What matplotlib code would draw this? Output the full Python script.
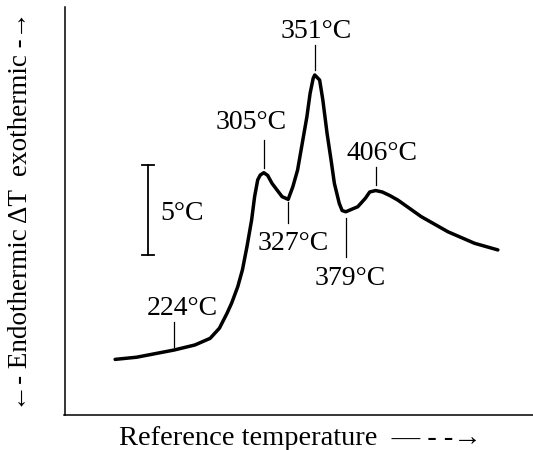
import matplotlib.pyplot as plt

plt.rcParams['font.family'] = ['Liberation Serif', 'DejaVu Serif']

# DTA trace: reference temperature (deg C) vs differential temperature (deg C)
temp = [170.8, 190.2, 224.0, 242.8, 256.6, 264.9, 271.8, 276.0, 281.5, 285.7,
        289.8, 294.0, 296.7, 299.5, 301.8, 305.0, 308.5, 312.4, 321.5, 327.0,
        331.2, 335.5, 339.7, 343.9, 346.8, 349.6, 351.0, 355.4, 358.3, 362.1,
        365.7, 368.7, 373.1, 375.7, 379.0, 389.8, 396.7, 400.6, 406.0, 411.9,
        418.5, 426.0, 447.1, 471.2, 495.2, 516.3]
delta_t = [3.09, 3.21, 3.61, 3.89, 4.26, 4.82, 5.65, 6.22, 7.13, 8.06,
           9.35, 10.83, 12.13, 13.06, 13.33, 13.46, 13.31, 12.87, 12.13, 11.98,
           12.68, 13.61, 15.09, 16.57, 17.87, 18.71, 18.89, 18.61, 17.50, 15.65,
           14.17, 12.87, 11.76, 11.36, 11.29, 11.57, 12.04, 12.39, 12.47, 12.39,
           12.20, 11.94, 11.02, 10.18, 9.54, 9.17]

# marked temperatures and their tick extents
marks = [224, 305, 327, 351, 379, 406]
tick_lo = [3.79, 13.72, 10.67, 19.17, 8.79, 12.78]
tick_hi = [5.18, 15.28, 11.85, 20.56, 10.94, 13.79]
# label placement: shift along x and baseline height
label_dx = [7.1, -11.3, 4.1, 1.2, 4.1, 5.9]
label_y = [5.56, 15.91, 9.17, 20.93, 7.22, 14.17]

# 5 deg C scale bar
bar_x = 200.7
bar_bottom = 8.89
bar_len = 5

fig = plt.figure(figsize=(5.33, 4.5), dpi=100)
ax = fig.add_axes([64.5 / 533, 35 / 450, 1 - 64.5 / 533, (415 - 7.3) / 450])

ax.plot(temp, delta_t, color='black', lw=2.5, solid_joinstyle='round',
        solid_capstyle='round')

for t, lo, hi, dx, ly in zip(marks, tick_lo, tick_hi, label_dx, label_y):
    ax.plot([t, t], [lo, hi], color='black', lw=0.9)
    ax.text(t + dx, ly, f'{t}°C', ha='center', va='baseline', fontsize=20)

ax.plot([bar_x, bar_x], [bar_bottom, bar_bottom + bar_len], color='black', lw=1.3)
for yy in (bar_bottom, bar_bottom + bar_len):
    ax.plot([bar_x - 5.3, bar_x + 5.3], [yy, yy], color='black', lw=1.3)
ax.text(211.4, 10.83, '5°C', ha='left', va='baseline', fontsize=20)

ax.set_xlim(125.1, 548)
ax.set_ylim(0, 22.65)
ax.set_xticks([])
ax.set_yticks([])
ax.spines['top'].set_visible(False)
ax.spines['right'].set_visible(False)
for s in ('left', 'bottom'):
    ax.spines[s].set_linewidth(1.1)

fig.text(119 / 533, 1 - 445 / 450, 'Reference temperature  — - -→',
         ha='left', va='baseline', fontsize=20.5)
fig.text(21 / 533, 1 - 211.5 / 450, '←- Endothermic ΔT  exothermic -→',
         ha='center', va='center', rotation=90, fontsize=19.5)

fig.savefig('out.png', dpi=100)
